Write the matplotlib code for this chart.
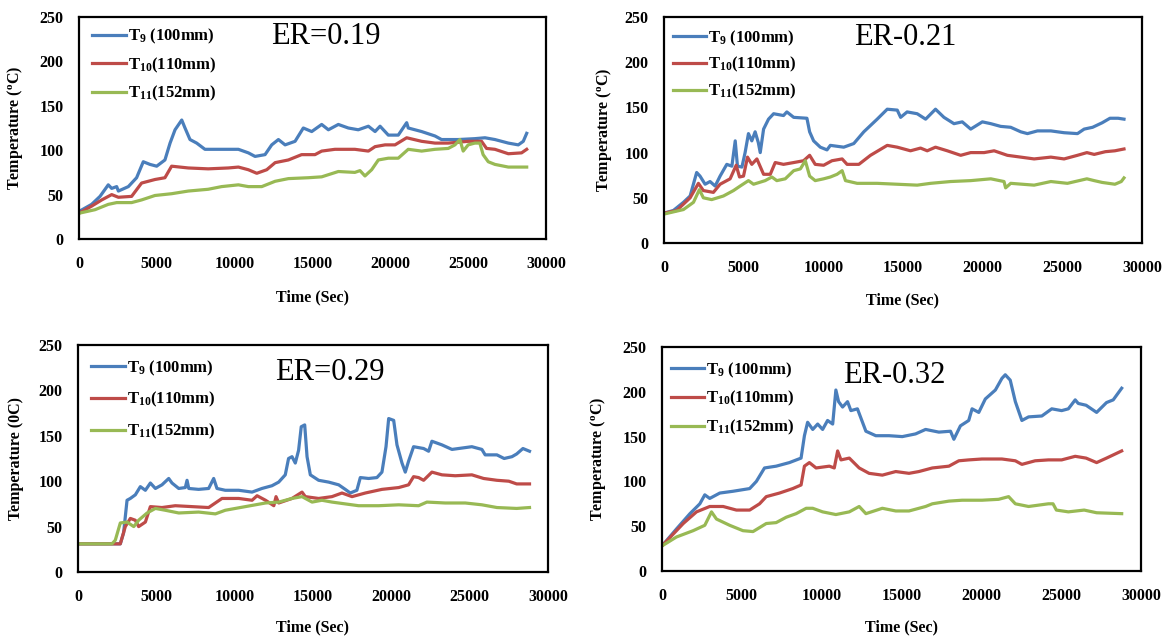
import matplotlib
matplotlib.use("Agg")
import matplotlib.pyplot as plt
from matplotlib.lines import Line2D

plt.rcParams["font.family"] = ["Liberation Serif", "DejaVu Serif"]
plt.rcParams["mathtext.fontset"] = "custom"
plt.rcParams["mathtext.rm"] = "Liberation Serif:bold"
plt.rcParams["mathtext.bf"] = "Liberation Serif:bold"
plt.rcParams["mathtext.it"] = "Liberation Serif:bold"

# ---------------- ER = 0.19 ----------------
er019_t9_time = [0, 810, 1350, 1880, 2100, 2420, 2530, 3170, 3700, 4130, 4560, 4990, 5520, 5850, 6170,
                 6600, 6810, 7130, 7560, 8090, 8740, 9590, 10240, 10880, 11310, 11950, 12380, 12810,
                 13240, 13880, 14410, 14950, 15590, 16020, 16660, 17300, 17940, 18590, 19020, 19340,
                 19870, 20510, 21050, 21150, 22010, 22870, 23290, 24360, 25430, 26080, 26720, 27580,
                 28220, 28540, 28760]
er019_t9_temp = [31, 39, 48, 61, 57, 59, 54, 59, 69, 87, 84, 82, 89, 108, 123,
                 134, 125, 112, 108, 101, 101, 101, 101, 97, 93, 95, 106, 112,
                 106, 110, 125, 121, 129, 123, 129, 125, 123, 127, 121, 127,
                 117, 117, 131, 125, 121, 116, 112, 112, 113, 114, 112, 108,
                 106, 110, 119]
er019_t10_time = [0, 810, 1460, 2100, 2530, 3380, 4020, 4880, 5520, 5950, 7020, 8300, 9590, 10240,
                  10880, 11420, 12060, 12600, 13450, 14300, 15160, 15590, 16440, 17720, 18590, 19020,
                  19660, 20300, 21050, 22010, 22870, 23720, 24360, 25000, 25860, 26180, 26720, 27580,
                  28430, 28760]
er019_t10_temp = [29, 37, 44, 50, 47, 48, 63, 67, 69, 82, 80, 79, 80, 81,
                  78, 74, 78, 86, 89, 95, 95, 99, 101, 101, 99, 104,
                  106, 106, 114, 110, 108, 108, 109, 110, 110, 102, 101, 96,
                  97, 101]
er019_t11_time = [0, 1030, 1880, 2420, 3380, 4020, 4880, 5950, 7020, 8300, 9160, 10240, 10880, 11740,
                  12600, 13450, 14730, 15590, 16660, 17720, 18050, 18370, 18800, 19230, 19870, 20510,
                  21150, 22010, 22870, 23720, 24150, 24470, 24680, 25000, 25430, 25750, 25960, 26290,
                  26720, 27580, 28760]
er019_t11_temp = [29, 33, 39, 41, 41, 44, 49, 51, 54, 56, 59, 61, 59, 59,
                  65, 68, 69, 70, 76, 75, 77, 71, 78, 89, 91, 91,
                  101, 99, 101, 102, 106, 112, 99, 106, 108, 108, 95, 87,
                  84, 81, 81]

# ---------------- ER = 0.21 ----------------
er021_t9_time = [0, 590, 1220, 1640, 2050, 2260, 2580, 2890, 3210, 3520, 3940, 4260, 4470, 4610, 4890,
                 5090, 5300, 5510, 5720, 5920, 6040, 6250, 6560, 6880, 7500, 7710, 8140, 8970, 9140,
                 9390, 9810, 10230, 10440, 11280, 11910, 12540, 13380, 14010, 14640, 14850, 15260,
                 15890, 16420, 17040, 17570, 18200, 18720, 19250, 19980, 20510, 21130, 21760, 22390,
                 22810, 23440, 24280, 25110, 25950, 26370, 26900, 27500, 27990, 28500, 28870]
er021_t9_temp = [33, 36, 45, 52, 78, 74, 65, 68, 63, 74, 87, 85, 113, 85, 84,
                 100, 121, 113, 123, 111, 100, 126, 137, 143, 141, 145, 139, 138, 123,
                 113, 106, 103, 108, 106, 110, 123, 137, 148, 147, 139, 145,
                 143, 137, 148, 139, 132, 134, 126, 134, 132, 129, 128, 123,
                 121, 124, 124, 122, 121, 126, 128, 133, 138, 138, 137]
er021_t10_time = [0, 800, 1640, 2160, 2470, 3100, 3520, 4150, 4530, 4740, 4990, 5240, 5510, 5830,
                  6250, 6670, 6980, 7500, 8140, 8760, 9140, 9490, 10020, 10540, 11180, 11490, 12230,
                  12960, 14010, 14640, 15470, 16100, 16520, 17040, 17780, 18620, 19250, 20090, 20720,
                  21550, 22390, 23230, 24280, 25110, 25950, 26540, 27000, 27700, 28300, 28870]
er021_t10_temp = [33, 36, 50, 66, 58, 56, 65, 71, 86, 73, 74, 95, 87, 93,
                  76, 76, 89, 87, 89, 91, 97, 87, 86, 91, 93, 87, 87,
                  97, 108, 106, 102, 105, 102, 106, 102, 97, 100, 100, 102,
                  97, 95, 93, 95, 93, 97, 100, 98, 101, 102, 104]
er021_t11_time = [0, 1220, 1850, 2220, 2470, 2990, 3730, 4360, 4780, 5300, 5620, 6350, 6770, 7080,
                  7610, 8140, 8560, 8870, 9140, 9490, 10020, 10440, 10860, 11180, 11390, 12120, 13380,
                  14640, 15890, 16730, 17990, 19250, 20510, 21340, 21440, 21760, 23230, 24280, 25320,
                  26540, 27000, 27500, 28300, 28700, 28870]
er021_t11_temp = [32, 37, 45, 59, 50, 48, 52, 58, 63, 69, 65, 69, 73, 69,
                  71, 80, 82, 91, 74, 69, 71, 73, 76, 80, 69, 66, 66,
                  65, 64, 66, 68, 69, 71, 68, 61, 66, 64, 68, 66,
                  71, 69, 67, 65, 68, 72]

# ---------------- ER = 0.29 ----------------
er029_t9_time = [0, 2170, 2700, 2910, 3130, 3340, 3660, 3980, 4300, 4620, 4940, 5360, 5790, 6000,
                 6430, 6850, 6960, 7070, 7700, 8340, 8660, 8870, 9400, 10260, 11110, 11740, 12380,
                 12810, 13230, 13440, 13660, 13870, 14080, 14250, 14470, 14620, 14830, 15360, 16000,
                 16640, 17060, 17380, 17800, 18020, 18550, 19080, 19400, 19660, 19830, 20150, 20360,
                 20680, 20890, 21100, 21420, 22060, 22380, 22590, 23230, 23870, 25140, 25780, 25990,
                 26740, 27200, 27700, 28000, 28400, 28820]
er029_t9_temp = [31, 31, 31, 43, 79, 81, 85, 94, 90, 98, 92, 96, 103, 98,
                 92, 93, 101, 92, 91, 92, 103, 92, 90, 90, 88, 92, 95,
                 99, 107, 125, 127, 120, 134, 160, 162, 127, 107, 101, 99,
                 96, 91, 87, 90, 104, 103, 104, 110, 138, 169, 167, 140,
                 120, 110, 122, 138, 136, 133, 144, 140, 135, 138, 135, 129,
                 129, 125, 127, 130, 136, 133]
er029_t10_time = [0, 2700, 3020, 3340, 3660, 3870, 4300, 4620, 5360, 6210, 7280, 8340, 9190, 10260,
                  11110, 11430, 11970, 12500, 12640, 12810, 13660, 14300, 14510, 15360, 16210, 16850,
                  17490, 18340, 19400, 20470, 21100, 21420, 21740, 22060, 22590, 23230, 24080, 25140,
                  25890, 26740, 27500, 28000, 28820]
er029_t10_temp = [31, 31, 50, 59, 57, 50, 55, 72, 71, 73, 72, 71, 81, 81,
                  79, 84, 79, 73, 83, 76, 81, 88, 83, 81, 83, 87,
                  83, 87, 91, 93, 96, 105, 104, 101, 110, 107, 106, 107,
                  103, 101, 100, 97, 97]
er029_t11_time = [0, 2170, 2380, 2700, 3130, 3560, 3870, 4410, 4940, 5570, 6430, 7700, 8770, 9400,
                  10680, 11970, 12810, 13660, 14300, 14940, 15570, 16210, 17060, 17910, 19190, 20470,
                  21740, 22270, 23440, 24720, 25780, 26740, 28000, 28820]
er029_t11_temp = [31, 31, 35, 54, 55, 50, 57, 65, 70, 68, 65, 66, 64, 68,
                  72, 76, 77, 81, 83, 77, 79, 77, 75, 73, 73, 74,
                  73, 77, 76, 76, 74, 71, 70, 71]

# ---------------- ER = 0.32 ----------------
er032_t9_time = [0, 910, 1750, 2370, 2680, 2990, 3620, 4450, 5490, 5910, 6420, 7150, 7980, 8710,
                 8920, 9120, 9440, 9750, 10060, 10370, 10690, 10890, 11060, 11310, 11620, 11830,
                 12240, 12770, 13390, 14220, 15050, 15880, 16510, 17340, 18070, 18280, 18690, 19210,
                 19420, 19840, 20250, 20880, 21290, 21500, 21810, 22130, 22540, 22960, 23790, 24410,
                 25030, 25450, 25880, 26070, 26560, 27220, 27840, 28260, 28790]
er032_t9_temp = [28, 47, 64, 75, 85, 81, 87, 89, 92, 100, 115, 117, 121, 126,
                 151, 166, 158, 164, 158, 168, 164, 202, 189, 183, 189, 179,
                 181, 156, 151, 151, 150, 153, 158, 155, 156, 147, 162, 168,
                 181, 177, 192, 202, 215, 219, 213, 189, 168, 172, 173, 181,
                 179, 181, 191, 187, 185, 177, 188, 191, 204]
er032_t10_time = [0, 1330, 2160, 2990, 3830, 4660, 5490, 6110, 6530, 7360, 8190, 8710, 8920, 9230,
                  9650, 10480, 10790, 11000, 11210, 11730, 12350, 12970, 13800, 14640, 15470, 16090,
                  16930, 17970, 18590, 19210, 20040, 21290, 22130, 22540, 23370, 24200, 25030, 25880,
                  26560, 27220, 27840, 28790]
er032_t10_temp = [28, 53, 66, 72, 72, 68, 68, 75, 83, 87, 92, 96, 117, 121,
                  115, 117, 115, 134, 124, 126, 115, 109, 107, 111, 109, 111,
                  115, 117, 123, 124, 125, 125, 123, 119, 123, 124, 124, 128,
                  126, 121, 126, 134]
er032_t11_time = [0, 910, 1950, 2680, 3100, 3410, 4240, 5070, 5700, 6530, 7150, 7780, 8400, 9030,
                  9440, 10060, 10890, 11730, 12350, 12770, 13800, 14640, 15470, 16510, 16930, 17970,
                  18800, 20040, 21080, 21710, 22130, 22960, 24200, 24490, 24700, 25450, 26440, 27220,
                  28790]
er032_t11_temp = [28, 38, 45, 51, 66, 58, 51, 45, 44, 53, 54, 60, 64, 70,
                  70, 66, 63, 66, 72, 64, 70, 67, 67, 72, 75, 78,
                  79, 79, 80, 83, 75, 72, 75, 75, 68, 66, 68, 65,
                  64]

series_labels = [r"T$_{\mathbf{9}}$ (100mm)", r"T$_{\mathbf{10}}$(110mm)", r"T$_{\mathbf{11}}$(152mm)"]
series_colors = ["#4a7ebb", "#be4b48", "#98b954"]

panels = [
    dict(title="ER=0.19", ylabel=r"Temperature ($^{\mathbf{o}}$C)",
         data=[(er019_t9_time, er019_t9_temp), (er019_t10_time, er019_t10_temp), (er019_t11_time, er019_t11_temp)],
         box=(79, 17, 546, 239), title_xy=(0.529, 0.91), ylab_x=-0.116, xlab_y=-0.225,
         leg_anchor=(0.0, 1.014), leg_space=0.55),
    dict(title="ER-0.21", ylabel=r"Temperature ($^{\mathbf{o}}$C)",
         data=[(er021_t9_time, er021_t9_temp), (er021_t10_time, er021_t10_temp), (er021_t11_time, er021_t11_temp)],
         box=(664, 17, 1142, 243), title_xy=(0.505, 0.911), ylab_x=-0.105, xlab_y=-0.217,
         leg_anchor=(-0.01, 1.009), leg_space=0.45),
    dict(title="ER=0.29", ylabel="Temperature (0C)",
         data=[(er029_t9_time, er029_t9_temp), (er029_t10_time, er029_t10_temp), (er029_t11_time, er029_t11_temp)],
         box=(78, 345, 548, 572), title_xy=(0.536, 0.881), ylab_x=-0.115, xlab_y=-0.207,
         leg_anchor=(0.0, 1.0), leg_space=0.75),
    dict(title="ER-0.32", ylabel=r"Temperature ($^{\mathbf{o}}$C)",
         data=[(er032_t9_time, er032_t9_temp), (er032_t10_time, er032_t10_temp), (er032_t11_time, er032_t11_temp)],
         box=(662, 347, 1141, 571), title_xy=(0.484, 0.873), ylab_x=-0.113, xlab_y=-0.214,
         leg_anchor=(-0.01, 1.0), leg_space=0.58),
]

W, H = 1166, 637
fig = plt.figure(figsize=(W / 100, H / 100), dpi=100)

for p in panels:
    x0, y0, x1, y1 = p["box"]
    ax = fig.add_axes([x0 / W, (H - y1) / H, (x1 - x0) / W, (y1 - y0) / H])
    for (t, v), c in zip(p["data"], series_colors):
        ax.plot(t, v, color=c, lw=2.3, solid_joinstyle="round")
    ax.set_xlim(0, 30000)
    ax.set_ylim(0, 250)
    ax.set_xticks(range(0, 30001, 5000))
    ax.set_yticks(range(0, 251, 50))
    ax.tick_params(length=0, labelsize=11.5, pad=11)
    ax.tick_params(axis="x", pad=12)
    for lab in ax.get_xticklabels() + ax.get_yticklabels():
        lab.set_fontweight("bold")
    for s in ax.spines.values():
        s.set_linewidth(1.6)
        s.set_color("black")
    ax.set_ylabel(p["ylabel"], fontsize=11.5, fontweight="bold")
    ax.yaxis.set_label_coords(p["ylab_x"], 0.5)
    ax.set_xlabel("Time (Sec)", fontsize=11.5, fontweight="bold")
    ax.xaxis.set_label_coords(0.5, p["xlab_y"])
    ax.text(p["title_xy"][0], p["title_xy"][1], p["title"], transform=ax.transAxes,
            ha="center", va="center", fontsize=22)
    handles = [Line2D([], [], color=c, lw=2.3) for c in series_colors]
    ax.legend(handles, series_labels, loc="upper left", bbox_to_anchor=p["leg_anchor"],
              frameon=False, prop=dict(size=12, weight="bold"), handlelength=2.0,
              handletextpad=0.15, labelspacing=p["leg_space"], borderaxespad=0.4)

fig.savefig("out.png", dpi=100)
